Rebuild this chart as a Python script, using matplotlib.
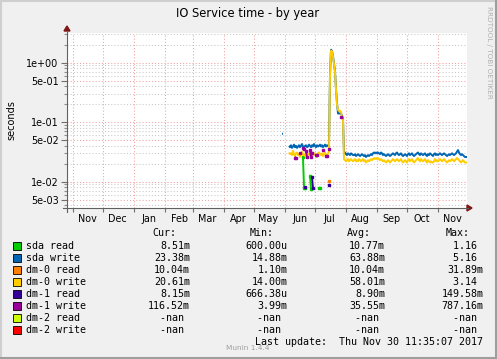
import numpy as np
import pandas as pd
import matplotlib
matplotlib.use("Agg")
import matplotlib.pyplot as plt
import matplotlib.dates as mdates
from matplotlib.patches import Rectangle, Polygon
from matplotlib.ticker import FixedLocator, FixedFormatter, NullFormatter

NaN = np.nan

# time window of the munin "year" graph (400 days)
x_start = "2016-10-26 11:35"
x_end = "2017-11-30 11:35"
first_day = "2017-05-29 11:35"

# daily values (seconds) from first_day on
sda_write = [0.064, 0.064, NaN, NaN, NaN, NaN, NaN,
             0.040, 0.038, 0.041, 0.037, 0.039, 0.042, 0.038, 0.040, 0.037, 0.039,
             0.041, 0.038, 0.040, 0.043, 0.039, 0.037, 0.040, 0.041, 0.038, 0.039,
             0.042, 0.040, 0.038, 0.041, 0.039, 0.043, 0.040, 0.038, 0.041, 0.039,
             0.040, 0.042, 0.039, 0.041, 0.038, 0.040, 0.042, 0.039, 0.041, 0.040,
             0.041,
             0.64, 1.65, 1.58, 1.30, 0.98, 0.72, 0.36, 0.21, 0.14, 0.14, 0.14, 0.14, 0.13, 0.115,
             0.030, 0.031, 0.029, 0.028, 0.030, 0.029, 0.028, 0.030, 0.029, 0.028,
             0.028, 0.029, 0.027, 0.028, 0.029, 0.028, 0.027, 0.028, 0.029, 0.028,
             0.027, 0.028, 0.026, 0.027, 0.028, 0.027, 0.028, 0.029, 0.028, 0.030,
             0.031, 0.030, 0.031, 0.030, 0.031, 0.030, 0.029, 0.031, 0.030, 0.028,
             0.029, 0.028, 0.027, 0.028, 0.029, 0.028, 0.027, 0.028, 0.029, 0.030,
             0.029, 0.028, 0.030, 0.031, 0.029, 0.028, 0.029, 0.030, 0.028, 0.027,
             0.028, 0.029, 0.028, 0.027, 0.029, 0.030, 0.028, 0.029, 0.030, 0.028,
             0.027, 0.028, 0.029, 0.030, 0.031, 0.029, 0.028, 0.030, 0.029, 0.028,
             0.029, 0.030, 0.028, 0.027, 0.029, 0.028, 0.030, 0.029, 0.028, 0.027,
             0.029, 0.030, 0.028, 0.029, 0.028, 0.029, 0.030, 0.029, 0.028, 0.029,
             0.030, 0.029, 0.028, 0.027, 0.028, 0.029, 0.028, 0.029, 0.030, 0.029,
             0.028, 0.029, 0.030, 0.032, 0.034, 0.031, 0.029, 0.028, 0.029, 0.028,
             0.027, 0.026, 0.026, 0.026]

dm0_write = [NaN, NaN, NaN, NaN, NaN, NaN, NaN,
             0.031, 0.029, 0.030, 0.028, 0.033, 0.029, 0.027, 0.030, 0.031, 0.028,
             0.029, 0.026, 0.030, 0.032, 0.028, 0.029, 0.027, 0.030, 0.031, 0.029,
             0.028, 0.030, 0.027, 0.029, 0.031, 0.028, 0.030, 0.029, 0.026, 0.030,
             0.031, 0.029, 0.028, 0.030, 0.027, 0.029, 0.031, 0.028, 0.027, 0.030,
             0.032,
             0.62, 1.60, 1.55, 1.25, 0.95, 0.70, 0.35, 0.20, 0.16, 0.155, 0.155, 0.15, 0.12, 0.11,
             0.024, 0.023, 0.022, 0.023, 0.024, 0.022, 0.023, 0.024, 0.023, 0.022,
             0.023, 0.024, 0.022, 0.023, 0.022, 0.024, 0.023, 0.022, 0.023, 0.024,
             0.022, 0.023, 0.021, 0.022, 0.023, 0.022, 0.023, 0.024, 0.023, 0.024,
             0.025, 0.024, 0.025, 0.024, 0.025, 0.024, 0.023, 0.024, 0.023, 0.022,
             0.023, 0.022, 0.021, 0.022, 0.023, 0.022, 0.021, 0.022, 0.023, 0.024,
             0.023, 0.022, 0.023, 0.024, 0.023, 0.022, 0.023, 0.024, 0.022, 0.021,
             0.022, 0.023, 0.022, 0.021, 0.023, 0.024, 0.022, 0.023, 0.024, 0.022,
             0.021, 0.022, 0.023, 0.024, 0.025, 0.023, 0.022, 0.024, 0.023, 0.022,
             0.023, 0.024, 0.022, 0.021, 0.023, 0.022, 0.021, 0.022, 0.021, 0.021,
             0.022, 0.024, 0.022, 0.023, 0.022, 0.023, 0.024, 0.023, 0.022, 0.023,
             0.024, 0.023, 0.022, 0.021, 0.022, 0.023, 0.022, 0.023, 0.024, 0.023,
             0.022, 0.023, 0.024, 0.025, 0.024, 0.023, 0.022, 0.021, 0.022, 0.023,
             0.022, 0.021, 0.021, 0.021]

# sparse series: only the days that have a value
sda_read_days = ["2017-06-19", "2017-06-20", "2017-06-21", "2017-06-26", "2017-06-27",
                 "2017-07-05", "2017-07-06"]
sda_read_vals = [0.026, 0.0079, 0.0079, 0.0125, 0.0075, 0.0078, 0.0078]

dm0_read_days = ["2017-07-15"]
dm0_read_vals = [0.0102]

dm1_read_days = ["2017-06-21", "2017-06-28", "2017-06-29", "2017-07-15"]
dm1_read_vals = [0.0081, 0.012, 0.0078, 0.0088]

dm1_write_days = ["2017-06-11", "2017-06-12", "2017-06-16", "2017-06-19", "2017-06-20",
                  "2017-06-22", "2017-06-23", "2017-06-26", "2017-06-27", "2017-06-28",
                  "2017-07-02", "2017-07-03", "2017-07-09", "2017-07-12", "2017-07-13",
                  "2017-07-15", "2017-07-27"]
dm1_write_vals = [0.0255, 0.0255, 0.030, 0.037, 0.036, 0.033, 0.026, 0.034, 0.026, 0.030,
                  0.028, 0.028, 0.034, 0.027, 0.027, 0.036, 0.124]

# legend table
names = ["sda read", "sda write", "dm-0 read", "dm-0 write",
         "dm-1 read", "dm-1 write", "dm-2 read", "dm-2 write"]
colors = ["#00CC00", "#0066B3", "#FF8000", "#FFCC00",
          "#330099", "#990099", "#CCFF00", "#FF0000"]
cur = ["8.51m", "23.38m", "10.04m", "20.61m", "8.15m", "116.52m", "-nan ", "-nan "]
vmin = ["600.00u", "14.88m", "1.10m", "14.00m", "666.38u", "3.99m", "-nan ", "-nan "]
vavg = ["10.77m", "63.88m", "10.04m", "58.01m", "8.90m", "35.55m", "-nan ", "-nan "]
vmax = ["1.16 ", "5.16 ", "31.89m", "3.14 ", "149.58m", "787.16m", "-nan ", "-nan "]

ytick_vals = [1, 0.5, 0.1, 0.05, 0.01, 0.005]
ytick_labels = ["1e+00", "5e-01", "1e-01", "5e-02", "1e-02", "5e-03"]
months = ["Nov", "Dec", "Jan", "Feb", "Mar", "Apr", "May", "Jun", "Jul", "Aug", "Sep", "Oct", "Nov"]

W, H = 497, 359
fig = plt.figure(figsize=(W / 100, H / 100), dpi=100, facecolor="#F0F0F0")

# plot area in pixels: x 67..467, y 33..208
ax = fig.add_axes([67 / W, 1 - 208 / H, 400 / W, 175 / H])
ax.set_facecolor("white")
for s in ax.spines.values():
    s.set_visible(False)

days = pd.date_range(first_day, periods=len(sda_write), freq="D")


def sparse(d, v):
    s = pd.Series(v, index=pd.to_datetime(d) + pd.Timedelta("11h35min"))
    return s.reindex(days)


series = [
    (sparse(sda_read_days, sda_read_vals), colors[0], True),
    (pd.Series(sda_write, index=days), colors[1], False),
    (sparse(dm0_read_days, dm0_read_vals), colors[2], True),
    (pd.Series(dm0_write, index=days), colors[3], False),
    (sparse(dm1_read_days, dm1_read_vals), colors[4], True),
    (sparse(dm1_write_days, dm1_write_vals), colors[5], True),
]
for s, c, mark in series:
    if mark:
        ax.plot(s.index, s.values, color=c, lw=1.4, marker="s", ms=1.5, mec=c,
                solid_capstyle="butt")
    else:
        ax.plot(s.index, s.values, color=c, lw=1.4, solid_capstyle="butt")

ax.set_yscale("log")
ax.set_ylim(10 ** -2.442, 10 ** 0.499)
ax.set_xlim(pd.Timestamp(x_start), pd.Timestamp(x_end))

# y ticks
ax.yaxis.set_major_locator(FixedLocator(ytick_vals))
ax.yaxis.set_major_formatter(FixedFormatter(ytick_labels))
minor = [m * d for d in [0.001, 0.01, 0.1, 1] for m in [2, 3, 4, 6, 7, 8, 9]]
ax.yaxis.set_minor_locator(FixedLocator(minor))
ax.yaxis.set_minor_formatter(NullFormatter())

# x ticks: month starts carry grid, labels sit mid-month
month_starts = pd.date_range("2016-11-01", "2017-11-01", freq="MS")
mid = month_starts + pd.Timedelta(days=15)
ax.xaxis.set_major_locator(FixedLocator(mdates.date2num(month_starts)))
ax.xaxis.set_major_formatter(NullFormatter())
ax.xaxis.set_minor_locator(FixedLocator(mdates.date2num(mid)))
ax.xaxis.set_minor_formatter(FixedFormatter(months))

ax.tick_params(axis="y", which="major", length=4, width=0.8, color="#707070",
               labelsize=6.9, pad=2)
ax.tick_params(axis="y", which="minor", length=2, width=0.8, color="#909090")
ax.tick_params(axis="x", which="major", length=3, width=0.8, color="#707070")
ax.tick_params(axis="x", which="minor", length=0, labelsize=6.9, pad=4)

dots = (0, (1, 2))
ax.grid(True, which="major", axis="both", color="#F2A0A0", lw=0.75, linestyle=dots)
ax.grid(True, which="minor", axis="y", color="#C8C8C8", lw=0.75, linestyle=dots)
ax.set_axisbelow(True)

# overlay in pixel coordinates for frame, axes arrows and legend
ov = fig.add_axes([0, 0, 1, 1], zorder=5)
ov.set_xlim(0, W)
ov.set_ylim(H, 0)
ov.axis("off")
ov.patch.set_alpha(0)

# 3d frame
ov.plot([1, 1], [0, H], color="#CFCFCF", lw=1.5)
ov.plot([0, W], [1, 1], color="#CFCFCF", lw=1.5)
ov.plot([W - 1, W - 1], [0, H], color="#9E9E9E", lw=1.5)
ov.plot([0, W], [H - 1, H - 1], color="#9E9E9E", lw=1.5)

# axes lines and arrows
ov.plot([67, 67], [212, 31], color="#606060", lw=0.8)
ov.plot([63, 468], [208, 208], color="#606060", lw=0.8)
ov.add_patch(Polygon([[64, 31], [70, 31], [67, 26]], closed=True, color="#801515"))
ov.add_patch(Polygon([[467, 205], [467, 211], [472, 208]], closed=True, color="#801515"))

# texts
ov.text(248, 13.5, "IO Service time - by year", ha="center", va="center", fontsize=8.3)
ov.text(11, 120, "seconds", rotation=90, ha="center", va="center", fontsize=7)
ov.text(488.5, 6, "RRDTOOL / TOBI OETIKER", rotation=270, ha="center", va="top",
        fontsize=5.2, color="#B0B0B0")

mono = "DejaVu Sans Mono"
fs = 7.2
ov.text(176.7, 233.3, "Cur:", ha="right", va="center", family=mono, fontsize=fs)
ov.text(274, 233.3, "Min:", ha="right", va="center", family=mono, fontsize=fs)
ov.text(371, 233.3, "Avg:", ha="right", va="center", family=mono, fontsize=fs)
ov.text(469.3, 233.3, "Max:", ha="right", va="center", family=mono, fontsize=fs)
for k, name in enumerate(names):
    y = 245.7 + 12 * k
    ov.add_patch(Rectangle((13, y - 4), 8, 8, facecolor=colors[k], edgecolor="black", lw=0.6))
    ov.text(26.5, y, name, ha="left", va="center", family=mono, fontsize=fs)
    ov.text(190, y, cur[k], ha="right", va="center", family=mono, fontsize=fs)
    ov.text(287.3, y, vmin[k], ha="right", va="center", family=mono, fontsize=fs)
    ov.text(385, y, vavg[k], ha="right", va="center", family=mono, fontsize=fs)
    ov.text(483.3, y, vmax[k], ha="right", va="center", family=mono, fontsize=fs)

ov.text(483.3, 341.7, "Last update:  Thu Nov 30 11:35:07 2017", ha="right", va="center",
        family=mono, fontsize=fs)
ov.text(248, 348.5, "Munin 1.4.4", ha="center", va="center", fontsize=5.3, color="#A0A0A0")

fig.savefig("out.png", dpi=100, facecolor=fig.get_facecolor())
